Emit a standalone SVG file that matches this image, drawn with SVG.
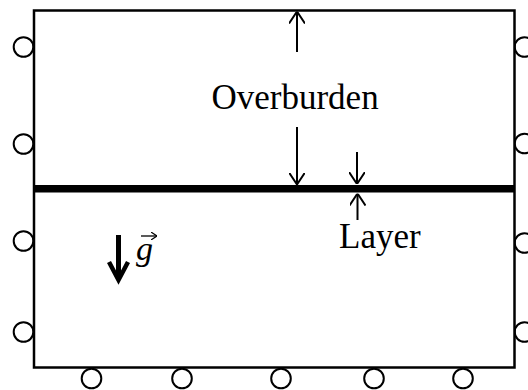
<svg xmlns="http://www.w3.org/2000/svg" width="528" height="390" viewBox="0 0 528 390">
<defs>
<style>
.box{fill:#fff;stroke:#000;stroke-width:2.5}
.roll{fill:#fff;stroke:#000;stroke-width:2}
.dim{stroke:#000;stroke-width:2;fill:none}
.lbl{font-family:"Liberation Serif","Times New Roman",serif;font-size:35px;fill:#000}
</style>
<marker id="open" viewBox="0 0 12 16" refX="12" refY="8" markerWidth="12" markerHeight="16" markerUnits="userSpaceOnUse" orient="auto">
<path d="M0,0 L12,8 L0,16" fill="none" stroke="#000" stroke-width="2"/>
</marker>
<marker id="small" viewBox="0 0 6 8" refX="6" refY="4" markerWidth="6" markerHeight="8" markerUnits="userSpaceOnUse" orient="auto">
<path d="M0,0 L6,4 L0,8" fill="none" stroke="#000" stroke-width="1.2"/>
</marker>
</defs>
<rect width="528" height="390" fill="#fff"/>
<g id="rollers">
<circle class="roll" cx="23.5" cy="47" r="9.8"/>
<circle class="roll" cx="23.5" cy="144" r="9.8"/>
<circle class="roll" cx="23.5" cy="241" r="9.8"/>
<circle class="roll" cx="23.5" cy="332" r="9.8"/>
<circle class="roll" cx="524.5" cy="47" r="9.8"/>
<circle class="roll" cx="524.5" cy="143.5" r="9.8"/>
<circle class="roll" cx="524.5" cy="243" r="9.8"/>
<circle class="roll" cx="524.5" cy="332" r="9.8"/>
<circle class="roll" cx="91.5" cy="378.5" r="9.8"/>
<circle class="roll" cx="182" cy="378.5" r="9.8"/>
<circle class="roll" cx="281" cy="378.5" r="9.8"/>
<circle class="roll" cx="374" cy="378.5" r="9.8"/>
<circle class="roll" cx="463" cy="378.5" r="9.8"/>
</g>
<g id="domain">
<rect class="box" x="34" y="10.5" width="480.5" height="357"/>
</g>
<g id="layer">
<rect x="34" y="185" width="480.5" height="7.5" fill="#000"/>
</g>
<g id="connectors">
<line class="dim" x1="297" y1="52" x2="297" y2="11.5" marker-end="url(#open)"/>
<line class="dim" x1="297" y1="127" x2="297" y2="184.5" marker-end="url(#open)"/>
<line class="dim" x1="357" y1="152" x2="357" y2="184" marker-end="url(#open)"/>
<line class="dim" x1="357.5" y1="220" x2="357.5" y2="193.5" marker-end="url(#open)"/>
</g>
<g id="overburden-label">
<text class="lbl" x="211.5" y="108.5">Overburden</text>
</g>
<g id="layer-label">
<text class="lbl" x="339" y="247.5">Layer</text>
</g>
<g id="gravity">
<line x1="118.5" y1="235" x2="118.5" y2="276" stroke="#000" stroke-width="5"/>
<path d="M109,262 L118.5,280 L128,262" fill="none" stroke="#000" stroke-width="4.5" stroke-linejoin="miter"/>
<text x="136" y="260" font-family="Liberation Serif, serif" font-style="italic" font-size="34">g</text>
<line x1="141" y1="236" x2="157" y2="236" stroke="#000" stroke-width="1.3" marker-end="url(#small)"/>
</g>
</svg>
